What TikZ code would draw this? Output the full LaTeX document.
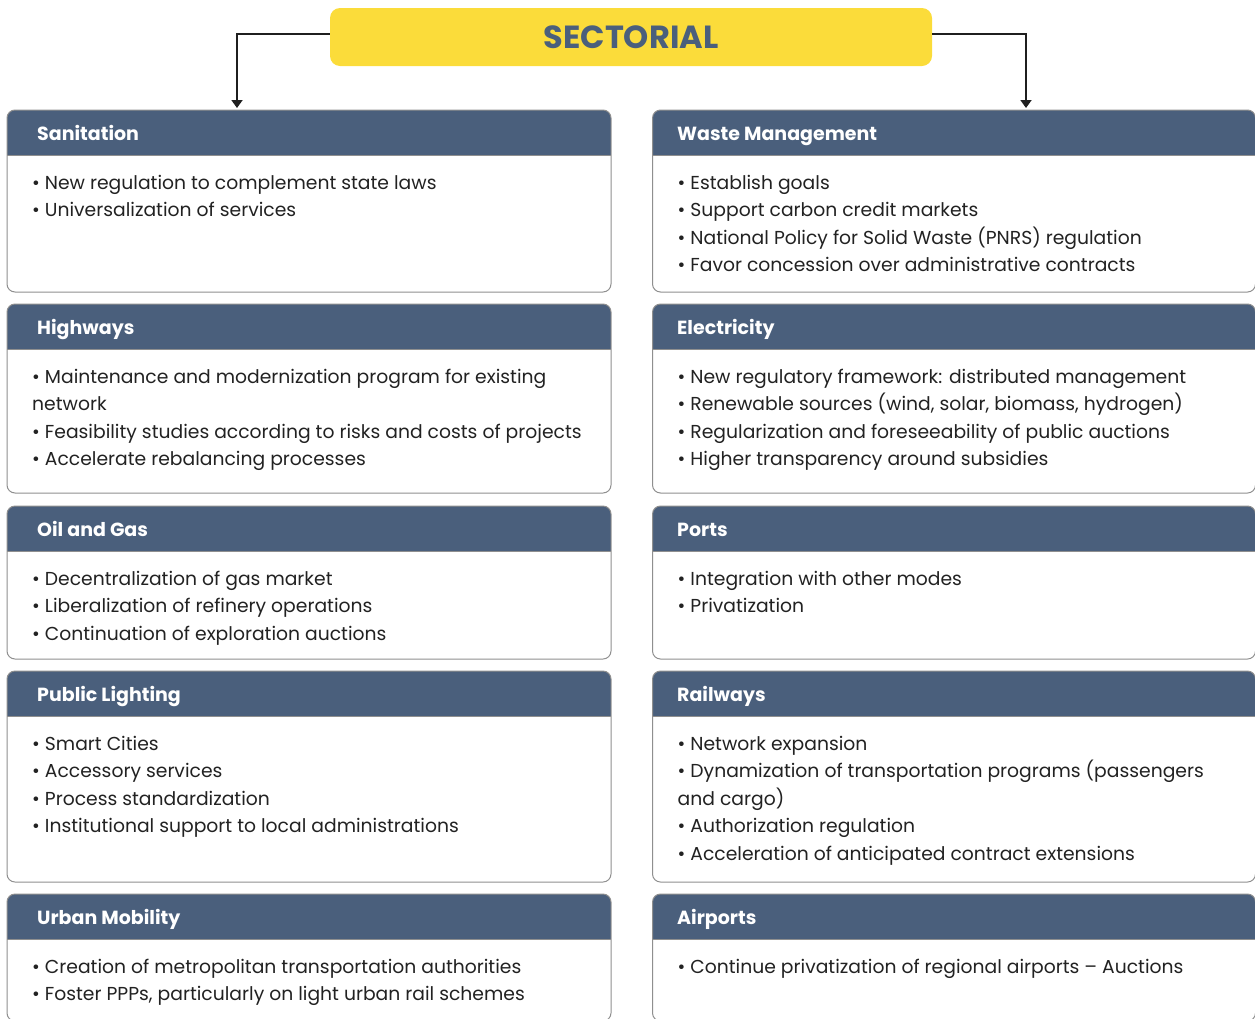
\documentclass[tikz,border=0pt]{standalone}
\usepackage{fontspec}
\setmainfont{Poppins}
\usetikzlibrary{arrows.meta}
\definecolor{hdr}{HTML}{4A5F7C}
\definecolor{ylw}{HTML}{FBDC3A}
\definecolor{frm}{HTML}{8F8F8F}
\definecolor{txt}{HTML}{222222}
\tikzset{
  frame/.style={draw=frm, line width=1pt},
  hdrtext/.style={text=white, font=\bfseries\fontsize{19}{22}\selectfont, inner sep=0pt},
  bodytext/.style={text=txt, font=\fontsize{18.75}{22}\selectfont, inner sep=0pt},
  boxshape/.style={inner sep=0pt, outer sep=0pt, rectangle},
  conn/.style={draw=black!88, line width=1.8pt, -{Triangle[width=11pt,length=8pt]}},
  titlebox/.style={fill=ylw, rounded corners=10pt, minimum width=602pt, minimum height=58pt,
    inner sep=0pt, text=hdr, font=\bfseries\fontsize{32}{36}\selectfont},
}
% #1 name, #2 x, #3 ytop, #4 height, #5 width, #6 title xshift, #7 title, #8 lines
\newcommand\sectbox[8]{%
  \node[boxshape, minimum width=#5pt, minimum height=#4pt, anchor=north west] (#1) at (#2,#3) {};
  \begin{scope}
    \clip[rounded corners=8pt] (#1.north west) rectangle (#1.south east);
    \fill[white] (#1.north west) rectangle (#1.south east);
    \fill[hdr] (#1.north west) rectangle ([yshift=-45pt]#1.north east);
  \end{scope}
  \draw[frame] ([yshift=-45pt]#1.north west) -- ([yshift=-45pt]#1.north east);
  \draw[frame, rounded corners=8pt] (#1.north west) rectangle (#1.south east);
  \node[hdrtext, anchor=base west] (#1-t) at ([xshift=#6pt, yshift=-30pt]#1.north west) {#7};
  \foreach \t [count=\i] in {#8} {
    \node[bodytext, anchor=base west] (#1-\i) at ([xshift=25pt, yshift={-(79+27.5*(\i-1))*1pt}]#1.north west) {\t};
  }
}
\begin{document}
\begin{tikzpicture}[x=1pt, y=-1pt]
  \useasboundingbox (0,0) rectangle (1255,1018);
  \clip (0,0) rectangle (1255,1018);

  \node[titlebox] (title) at (631,37) {SECTORIAL};

  \sectbox{san}{7}{110}{182}{604}{30}{Sanitation}{%
    {• New regulation to complement state laws},
    {• Universalization of services}}
  \sectbox{waste}{652.5}{110}{182}{603}{24.5}{Waste Management}{%
    {• Establish goals},
    {• Support carbon credit markets},
    {• National Policy for Solid Waste (PNRS) regulation},
    {• Favor concession over administrative contracts}}

  \sectbox{hwy}{7}{304}{189}{604}{30}{Highways}{%
    {• Maintenance and modernization program for existing},
    {network},
    {• Feasibility studies according to risks and costs of projects},
    {• Accelerate rebalancing processes}}
  \sectbox{elec}{652.5}{304}{189}{603}{24.5}{Electricity}{%
    {• New regulatory framework: distributed management},
    {• Renewable sources (wind, solar, biomass, hydrogen)},
    {• Regularization and foreseeability of public auctions},
    {• Higher transparency around subsidies}}

  \sectbox{oil}{7}{506}{153}{604}{30}{Oil and Gas}{%
    {• Decentralization of gas market},
    {• Liberalization of refinery operations},
    {• Continuation of exploration auctions}}
  \sectbox{ports}{652.5}{506}{153}{603}{24.5}{Ports}{%
    {• Integration with other modes},
    {• Privatization}}

  \sectbox{light}{7}{671}{211}{604}{30}{Public Lighting}{%
    {• Smart Cities},
    {• Accessory services},
    {• Process standardization},
    {• Institutional support to local administrations}}
  \sectbox{rail}{652.5}{671}{211}{603}{24.5}{Railways}{%
    {• Network expansion},
    {• Dynamization of transportation programs (passengers},
    {and cargo)},
    {• Authorization regulation},
    {• Acceleration of anticipated contract extensions}}

  \sectbox{urban}{7}{894}{127}{604}{30}{Urban Mobility}{%
    {• Creation of metropolitan transportation authorities},
    {• Foster PPPs, particularly on light urban rail schemes}}
  \sectbox{air}{652.5}{894}{127}{603}{24.5}{Airports}{%
    {• Continue privatization of regional airports – Auctions}}

  \coordinate (lt) at ([xshift=230pt, yshift=2pt]san.north west);
  \coordinate (rt) at ([xshift=373.5pt, yshift=2pt]waste.north west);
  \draw[conn] ([yshift=3pt]title.west) -| (lt);
  \draw[conn] ([yshift=3pt]title.east) -| (rt);
\end{tikzpicture}
\end{document}
